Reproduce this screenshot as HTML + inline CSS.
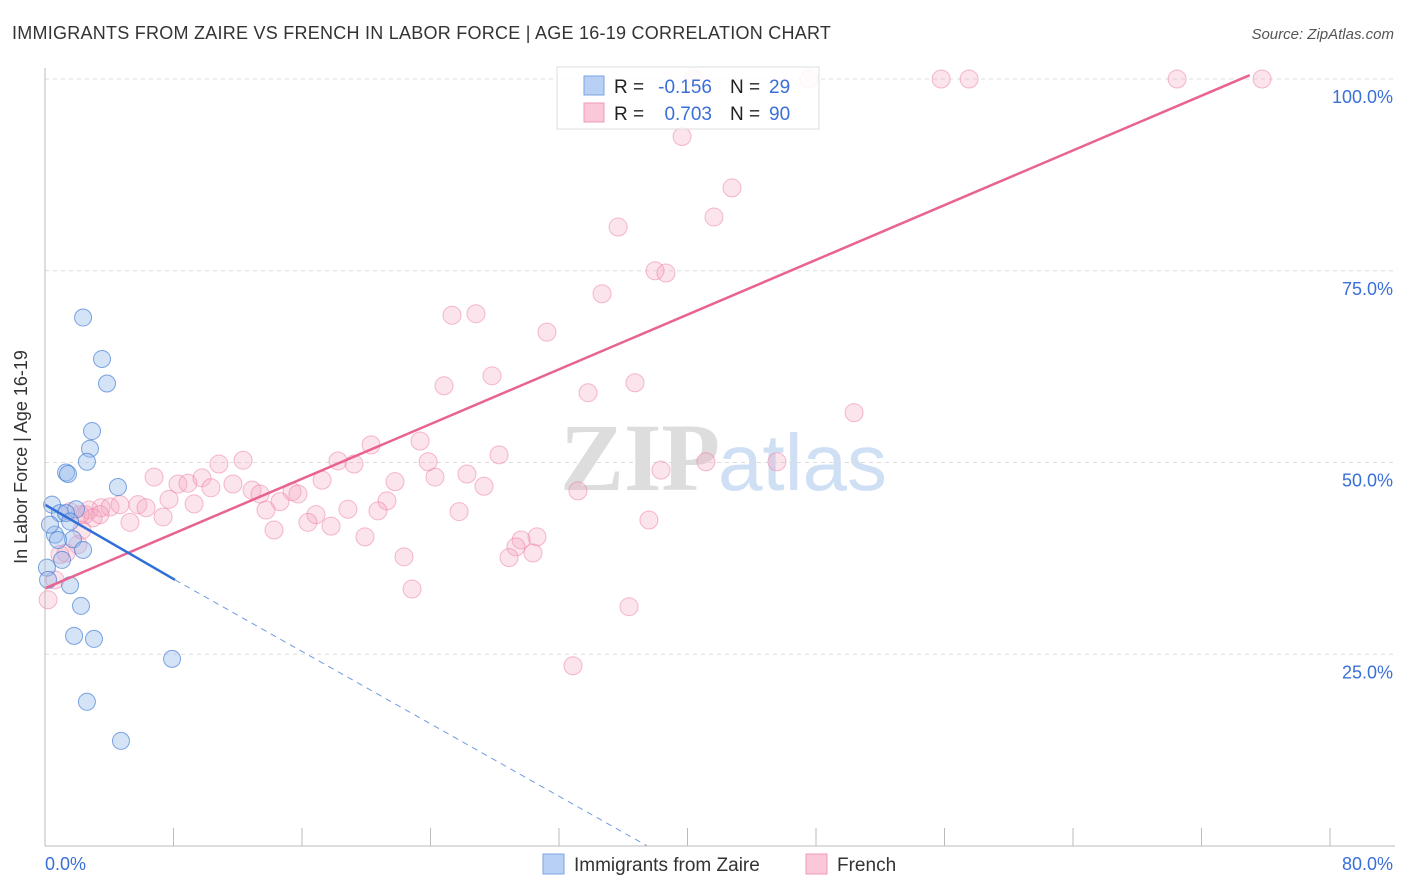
<!DOCTYPE html>
<html><head><meta charset="utf-8"><style>
body{margin:0;background:#fff;font-family:"Liberation Sans",sans-serif}
svg{display:block}
</style></head><body>
<svg width="1406" height="892" xmlns="http://www.w3.org/2000/svg">
<text x="12" y="39" font-size="18" fill="#333" letter-spacing="0.25">IMMIGRANTS FROM ZAIRE VS FRENCH IN LABOR FORCE | AGE 16-19 CORRELATION CHART</text>
<text x="1394" y="39" font-size="15" fill="#555" font-style="italic" text-anchor="end">Source: ZipAtlas.com</text>
<text x="720" y="490" font-size="96" font-family="Liberation Serif" fill="#ddd" text-anchor="end" font-weight="bold">ZIP</text>
<text x="718" y="490" font-size="80" fill="#cfe0f5">atlas</text>
<g id="grid"></g><g id="pts"></g><g id="lines"></g>
<line x1="45" y1="68" x2="45" y2="846" stroke="#bbb"/>
<line x1="45" y1="846" x2="1395" y2="846" stroke="#bbb"/>
<text x="27" y="457" font-size="18" fill="#333" text-anchor="middle" transform="rotate(-90 27 457)">In Labor Force | Age 16-19</text>
<text x="45" y="870" font-size="18" fill="#3a6fd8">0.0%</text>
<text x="1393" y="870" font-size="18" fill="#3a6fd8" text-anchor="end">80.0%</text>
<g>
<rect x="557" y="67" width="262" height="62" fill="#fff" fill-opacity="0.85" stroke="#ddd"/>
<rect x="584" y="76" width="20" height="19" fill="#b8d0f3" stroke="#7aa3e6"/>
<rect x="584" y="103" width="20" height="19" fill="#fac8d8" stroke="#f09ab5"/>
<text x="614" y="93" font-size="19" fill="#222">R =</text>
<text x="712" y="93" font-size="19" fill="#3a6fd8" text-anchor="end">-0.156</text>
<text x="730" y="93" font-size="19" fill="#222">N =</text>
<text x="769" y="93" font-size="19" fill="#3a6fd8">29</text>
<text x="614" y="120" font-size="19" fill="#222">R =</text>
<text x="712" y="120" font-size="19" fill="#3a6fd8" text-anchor="end">0.703</text>
<text x="730" y="120" font-size="19" fill="#222">N =</text>
<text x="769" y="120" font-size="19" fill="#3a6fd8">90</text>
</g>
<g>
<rect x="543" y="854" width="21" height="20" fill="#b8d0f3" stroke="#7aa3e6"/>
<text x="574" y="871" font-size="19" fill="#333">Immigrants from Zaire</text>
<rect x="806" y="854" width="21" height="20" fill="#fac8d8" stroke="#f09ab5"/>
<text x="837" y="871" font-size="19" fill="#333">French</text>
</g>
</svg>
<script>
const yTicks=[25,50,75,100];
const yTickLabels=["25.0%","50.0%","75.0%","100.0%"];
const xTicks=[0,8,16,24,32,40,48,56,64,72,80];
const zaireX=[2.37,3.55,3.86,2.93,2.80,2.61,1.31,1.43,4.54,0.44,1.93,0.93,1.31,1.56,0.62,1.74,2.37,1.06,0.12,1.56,2.24,1.81,3.05,7.91,2.61,4.73,0.31,0.81,0.19];
const zaireY=[68.9,63.5,60.3,54.1,51.8,50.1,48.7,48.5,46.8,44.5,43.9,43.4,43.4,42.3,40.6,40.0,38.6,37.3,36.3,34.0,31.3,27.4,27.0,24.4,18.8,13.7,41.9,39.9,34.7];
const frenchX=[40.34,47.57,55.79,57.53,70.48,75.77,39.66,42.77,41.65,35.68,37.98,38.66,34.68,25.34,26.83,31.25,27.83,24.84,36.73,33.81,50.37,23.35,20.30,12.33,18.24,19.24,28.27,23.85,41.15,45.57,38.35,6.79,10.83,26.27,24.28,21.79,17.25,27.33,8.28,8.90,9.77,10.33,11.70,12.89,13.39,15.38,15.75,7.72,5.79,6.29,9.28,14.63,21.29,18.86,20.73,25.78,3.49,4.05,4.67,2.74,2.49,2.99,5.29,7.35,13.76,16.87,16.37,17.81,14.26,19.92,30.63,29.64,29.32,28.89,30.38,22.35,22.85,33.18,37.60,36.36,32.87,1.56,2.18,2.05,1.31,0.93,0.62,0.19,3.42,2.30];
const frenchY=[100,100,100,100,100,100,92.5,85.8,82.0,80.7,75.0,74.7,72.0,69.2,69.4,67.0,61.3,60.0,60.4,59.1,56.5,52.8,52.3,50.3,50.2,49.8,51.0,50.1,50.1,50.1,49.0,48.1,49.8,48.5,48.1,47.5,47.7,46.9,47.2,47.3,48.0,46.7,47.2,46.4,45.9,46.2,45.9,45.2,44.5,44.1,44.6,44.9,45.0,43.9,43.7,43.6,44.1,44.2,44.5,43.8,43.2,42.8,42.2,42.9,43.8,43.2,42.2,41.7,41.2,40.3,40.3,39.9,39.0,37.6,38.2,37.7,33.5,46.3,42.5,31.2,23.5,43.6,43.2,39.3,38.2,38.0,34.7,32.1,43.2,41.2];
const frenchTrend=[0,33.6,75.0,100.5];
const zaireTrendSolid=[0,44.5,8.09,34.7];
const zaireTrendDash=[8.09,34.7,37.5,0];
const X=v=>45+v/80*1285, Y=v=>846-v/100*767;
const NS="http://www.w3.org/2000/svg";
function mk(tag,attrs,parent){const e=document.createElementNS(NS,tag);for(const k in attrs)e.setAttribute(k,attrs[k]);document.getElementById(parent).appendChild(e);return e;}
yTicks.forEach((t,i)=>{
 const l=mk('line',{x1:45,x2:1395,y1:Y(t),y2:Y(t),stroke:'#ddd','stroke-dasharray':'4 4'},'grid');
 
 
 const tx=mk('text',{x:1393,y:Y(t)+24,'font-size':18,fill:'#3a6fd8','text-anchor':'end'},'grid');
 tx.textContent=yTickLabels[i];
 
 
});
xTicks.forEach(t=>{
 const l=mk('line',{x1:X(t),x2:X(t),y1:828,y2:846,stroke:'#bbb'},'grid');
 
 
});
frenchX.forEach((v,i)=>{
 const c=mk('circle',{cx:X(v),cy:Y(frenchY[i]),r:9,fill:'rgba(246,166,192,0.3)',stroke:'rgba(236,120,160,0.5)','stroke-width':1},'pts');
 
 
});
zaireX.forEach((v,i)=>{
 const c=mk('circle',{cx:X(v),cy:Y(zaireY[i]),r:8.5,fill:'rgba(150,185,235,0.4)',stroke:'rgba(60,120,210,0.65)','stroke-width':1},'pts');
 
 
});
let l1=mk('line',{x1:X(frenchTrend[0]),y1:Y(frenchTrend[1]),x2:X(frenchTrend[2]),y2:Y(frenchTrend[3]),stroke:'#e8638f','stroke-width':2.5},'lines');


let l2=mk('line',{x1:X(zaireTrendSolid[0]),y1:Y(zaireTrendSolid[1]),x2:X(zaireTrendSolid[2]),y2:Y(zaireTrendSolid[3]),stroke:'#2f6fd6','stroke-width':2.5},'lines');


let l3=mk('line',{x1:X(zaireTrendDash[0]),y1:Y(zaireTrendDash[1]),x2:X(zaireTrendDash[2]),y2:Y(zaireTrendDash[3]),stroke:'#6f9be0','stroke-width':1,'stroke-dasharray':'6 5'},'lines');


</script>
</body></html>
